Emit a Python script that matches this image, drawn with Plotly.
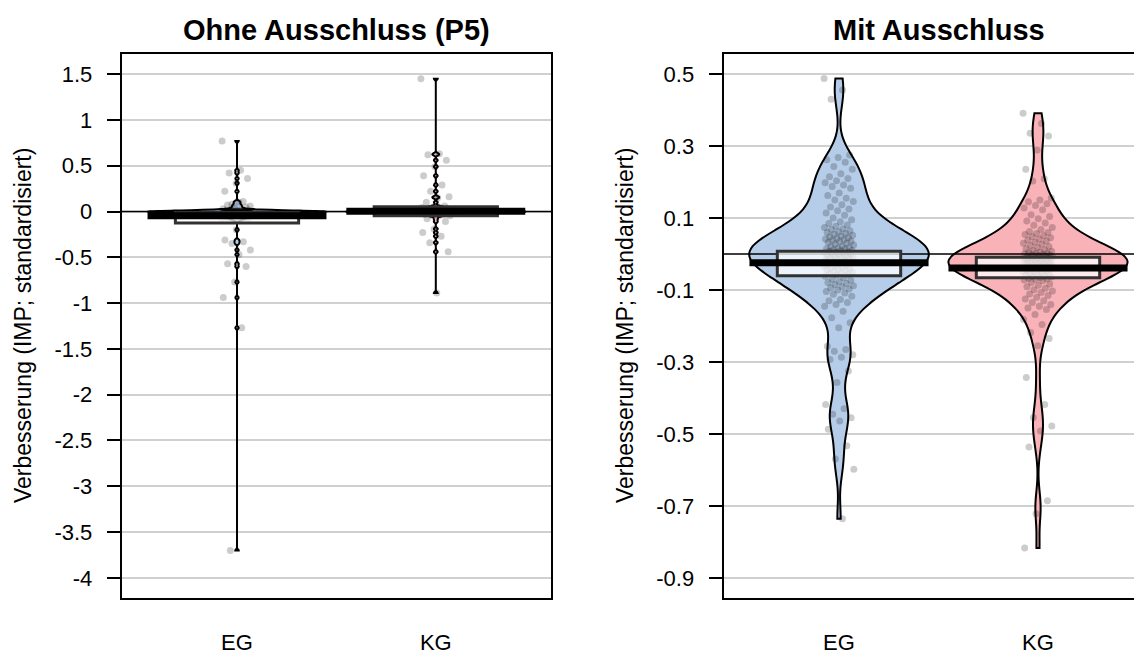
import numpy as np
import plotly.graph_objects as go

# ---------------- data ----------------
groups = ["EG", "KG"]
positions = [1, 2]

# left panel: "Ohne Ausschluss (P5)"
left_eg = [0.77, 0.45, 0.42, 0.36, 0.31, 0.22, 0.11, 0.08, 0.06,
           0.1, 0.07, 0.05, 0.04, 0.03, 0.025, 0.02, 0.016, 0.012, 0.01, 0.008,
           0.006, 0.005, 0.004, 0.003, 0.002, 0.002, 0.001, 0.001, 0.0, 0.0,
           0.0, 0.0, 0.0, 0.0, 0.0, 0.0, 0.0, 0.0, 0.0, 0.0, 0.0, 0.0,
           0.0, 0.0, 0.0, 0.0, 0.0, 0.0, 0.0, 0.0, 0.0, 0.0, 0.0, 0.0,
           -0.001, -0.001, -0.002, -0.002,
           -0.003, -0.003, -0.004, -0.004, -0.005, -0.005, -0.006, -0.007,
           -0.008, -0.009, -0.01, -0.011, -0.012, -0.014, -0.016, -0.018,
           -0.02, -0.022, -0.025, -0.028, -0.03, -0.033, -0.036, -0.04,
           -0.044, -0.048, -0.052, -0.056, -0.06, -0.065, -0.07, -0.075,
           -0.08, -0.09, -0.1,
           -0.2, -0.31, -0.33, -0.35, -0.42, -0.47, -0.57, -0.6, -0.77,
           -0.94, -1.27, -3.7]
left_kg = [1.45, 0.63, 0.62, 0.56, 0.49, 0.39, 0.29, 0.22, 0.16, 0.15, 0.1,
           0.06, 0.05, 0.045, 0.04, 0.035, 0.03, 0.026, 0.022, 0.018, 0.015,
           0.012, 0.01, 0.008, 0.006, 0.005, 0.004, 0.003, 0.002, 0.001,
           0.0, 0.0, 0.0, 0.0, 0.0, 0.0, 0.0, 0.0, 0.0, 0.0, 0.0, 0.0,
           0.0, 0.0, 0.0, 0.0, 0.0, 0.0, 0.0, 0.0, 0.0, 0.0, 0.0, 0.0,
           0.0, 0.0, 0.0, 0.0, 0.0, 0.0, -0.001, -0.002, -0.003,
           -0.004, -0.005, -0.006, -0.008, -0.01, -0.012, -0.015, -0.018,
           -0.022, -0.026, -0.03, -0.035, -0.04, -0.045,
           -0.05, -0.08, -0.11, -0.19, -0.23, -0.27, -0.34, -0.44, -0.89]

# right panel: "Mit Ausschluss"
right_eg = [0.488, 0.456, 0.43,
            0.275, 0.268, 0.262, 0.255,
            0.243, 0.236, 0.223, 0.215, 0.21,
            0.204, 0.198, 0.192, 0.188, 0.183,
            0.17, 0.163, 0.155, 0.15, 0.146,
            0.137, 0.131, 0.125, 0.12, 0.114, 0.108, 0.1, 0.095, 0.09, 0.085, 0.081,
            0.077, 0.074, 0.07, 0.068, 0.065, 0.062, 0.06, 0.057, 0.055, 0.052,
            0.05, 0.048, 0.046, 0.044, 0.042, 0.04, 0.038, 0.036, 0.034, 0.032,
            0.03, 0.028, 0.025, 0.022, 0.02, 0.018,
            0.016, 0.015, 0.014, 0.012, 0.01, 0.009, 0.008, 0.006, 0.005, 0.003,
            0.002, 0.0, -0.001, -0.002, -0.004,
            -0.005, -0.006, -0.008, -0.01, -0.011, -0.012, -0.014, -0.016, -0.018,
            -0.02, -0.022,
            -0.025, -0.028, -0.03, -0.032, -0.034, -0.036, -0.038, -0.04, -0.042,
            -0.044, -0.046, -0.048, -0.05, -0.052, -0.054, -0.056, -0.058,
            -0.062, -0.066, -0.07, -0.073, -0.076, -0.079, -0.082, -0.085, -0.088,
            -0.091, -0.094, -0.097, -0.1, -0.104, -0.108, -0.112, -0.117,
            -0.126, -0.13, -0.135, -0.14, -0.145,
            -0.159, -0.177, -0.191, -0.205,
            -0.256, -0.265, -0.27, -0.28, -0.287, -0.293,
            -0.325, -0.357,
            -0.418, -0.43, -0.445, -0.455, -0.464,
            -0.487,
            -0.533, -0.57, -0.598,
            -0.736]
right_kg = [0.391, 0.363, 0.336, 0.328, 0.289, 0.236, 0.209, 0.203,
            0.156, 0.15, 0.145, 0.14, 0.135, 0.128, 0.123,
            0.109, 0.104, 0.098, 0.092, 0.086, 0.08, 0.074, 0.068,
            0.063, 0.06, 0.057, 0.054, 0.051, 0.048, 0.045, 0.042, 0.039, 0.036,
            0.033, 0.03, 0.027, 0.024, 0.021, 0.018, 0.015, 0.012, 0.01, 0.008,
            0.006, 0.004, 0.002, 0.001,
            0.0, -0.001, -0.002, -0.003, -0.004, -0.005, -0.006, -0.007, -0.008,
            -0.009, -0.01, -0.011, -0.012, -0.013, -0.014, -0.015, -0.016, -0.017,
            -0.018, -0.019, -0.02, -0.021, -0.022, -0.024, -0.025, -0.026, -0.027,
            -0.029, -0.03, -0.032, -0.033, -0.035, -0.036, -0.037, -0.039,
            -0.04, -0.042, -0.043, -0.045, -0.046, -0.047, -0.049, -0.05, -0.052,
            -0.053, -0.055, -0.057, -0.058, -0.06, -0.062, -0.064, -0.065, -0.067,
            -0.069, -0.07, -0.072, -0.074,
            -0.079, -0.083, -0.087, -0.091, -0.095, -0.099, -0.103, -0.107,
            -0.111, -0.115, -0.12, -0.125, -0.13, -0.135, -0.14, -0.145, -0.15, -0.154,
            -0.168, -0.182, -0.196,
            -0.218, -0.235, -0.255,
            -0.343,
            -0.418, -0.454, -0.478, -0.492,
            -0.536,
            -0.686, -0.722,
            -0.817]

# summary statistics shown as bar (mean) and box (interval)
left_means = [-0.047, 0.004]
left_inf_low = [-0.125, -0.045]
left_inf_high = [-0.012, 0.052]
right_means = [-0.024, -0.039]
right_inf_low = [-0.06, -0.066]
right_inf_high = [0.008, -0.009]

left_yticks = [1.5, 1, 0.5, 0, -0.5, -1, -1.5, -2, -2.5, -3, -3.5, -4]
left_yticklabels = ["1.5", "1", "0.5", "0", "-0.5", "-1", "-1.5", "-2", "-2.5", "-3", "-3.5", "-4"]
right_yticks = [0.5, 0.3, 0.1, -0.1, -0.3, -0.5, -0.7, -0.9]
right_yticklabels = ["0.5", "0.3", "0.1", "-0.1", "-0.3", "-0.5", "-0.7", "-0.9"]

titles = ["Ohne Ausschluss (P5)", "Mit Ausschluss"]
ylabel = "Verbesserung (IMP; standardisiert)"

# ---------------- styling ----------------
# The page body has an 8px margin, so the figure is drawn 8px smaller and
# all screen positions are shifted by that offset.
OFF = 8
W, H = 1142 - OFF, 659 - OFF
FONT = "Liberation Sans, Arial, Helvetica, sans-serif"
bean_fill = ["rgb(182,205,233)", "rgb(248,178,184)"]
pt_color = "rgba(0,0,0,0.2)"

plot_top, plot_bot = 54, 598
L_x0, L_x1 = 121.7, 551.1
R_x0, R_x1 = 723.6, 1153.4

def px(x):
    return (x - OFF) / W

def py(y):
    return (H - (y - OFF)) / H

fig = go.Figure()

def jitter(n, amp=0.075):
    k = np.arange(n)
    return ((k * 0.6180339887) % 1.0 - 0.5) * 2 * amp

panels = [
    dict(data=[left_eg, left_kg], bw=[0.012, 0.012], means=left_means,
         lo=left_inf_low, hi=left_inf_high, xa="x", ya="y"),
    dict(data=[right_eg, right_kg], bw=[0.044, 0.04], means=right_means,
         lo=right_inf_low, hi=right_inf_high, xa="x2", ya="y2"),
]

shapes = []
for p in panels:
    for gi, (vals, pos) in enumerate(zip(p["data"], positions)):
        fig.add_trace(go.Violin(
            y=vals, x0=pos, xaxis=p["xa"], yaxis=p["ya"],
            width=0.9, scalemode="width", spanmode="hard",
            bandwidth=p["bw"][gi], points=False,
            fillcolor=bean_fill[gi], line=dict(color="black", width=2),
            box_visible=False, meanline_visible=False, showlegend=False,
            hoverinfo="skip"))
    for gi, (vals, pos) in enumerate(zip(p["data"], positions)):
        v = np.array(vals, dtype=float)
        fig.add_trace(go.Scatter(
            x=pos + jitter(len(v)), y=v, mode="markers",
            xaxis=p["xa"], yaxis=p["ya"],
            marker=dict(size=7, color=pt_color, line=dict(width=0)),
            showlegend=False, hoverinfo="skip"))
    xr = p["xa"]
    yr = p["ya"]
    shapes.append(dict(type="line", xref=xr + " domain", yref=yr, x0=0, x1=1,
                       y0=0, y1=0, line=dict(color="black", width=1.5), layer="above"))
    for gi, pos in enumerate(positions):
        shapes.append(dict(type="rect", xref=xr, yref=yr,
                           x0=pos - 0.31, x1=pos + 0.31,
                           y0=p["lo"][gi], y1=p["hi"][gi],
                           fillcolor="rgba(255,255,255,0.75)",
                           line=dict(color="rgb(50,50,50)", width=3), layer="above"))
        shapes.append(dict(type="line", xref=xr, yref=yr,
                           x0=pos - 0.45, x1=pos + 0.45,
                           y0=p["means"][gi], y1=p["means"][gi],
                           line=dict(color="black", width=7), layer="above"))

ydom = [py(plot_bot), py(plot_top)]
axis_common = dict(showline=True, linecolor="black", linewidth=2,
                   zeroline=False, automargin=False)
yax_common = dict(axis_common, showgrid=True, gridcolor="rgb(208,208,208)",
                  gridwidth=1.5, ticks="outside", ticklen=13, tickwidth=2,
                  tickcolor="black", ticklabelstandoff=10,
                  tickfont=dict(family=FONT, size=22, color="black"))
xax_common = dict(axis_common, showgrid=False, ticks="", tickvals=positions,
                  ticktext=groups, ticklabelstandoff=24,
                  tickfont=dict(family=FONT, size=22, color="black"))

fig.update_layout(
    width=W, height=H, margin=dict(l=0, r=0, t=0, b=0, autoexpand=False),
    paper_bgcolor="white", plot_bgcolor="white",
    violinmode="overlay",
    xaxis=dict(xax_common, domain=[px(L_x0), px(L_x1)], range=[0.42, 2.58],
               mirror=True, anchor="y"),
    yaxis=dict(yax_common, domain=ydom, range=[-4.22, 1.72], mirror=True,
               tickvals=left_yticks, ticktext=left_yticklabels, anchor="x"),
    xaxis2=dict(xax_common, domain=[px(R_x0), 1.0],
                range=[0.42, 0.42 + (1142 - R_x0) / (R_x1 - R_x0) * 2.16],
                mirror=True, anchor="y2"),
    yaxis2=dict(yax_common, domain=ydom, range=[-0.956, 0.556], mirror=False,
                tickvals=right_yticks, ticktext=right_yticklabels, anchor="x2"),
    shapes=shapes,
    font=dict(family=FONT, color="black"),
)

annotations = [
    dict(text="<b>%s</b>" % titles[0], x=px((L_x0 + L_x1) / 2), y=py(30),
         xref="paper", yref="paper", xanchor="center", yanchor="middle",
         showarrow=False, font=dict(family=FONT, size=29, color="black")),
    dict(text="<b>%s</b>" % titles[1], x=px((R_x0 + R_x1) / 2), y=py(30),
         xref="paper", yref="paper", xanchor="center", yanchor="middle",
         showarrow=False, font=dict(family=FONT, size=29, color="black")),
    dict(text=ylabel, x=px(23), y=py((plot_top + plot_bot) / 2), textangle=-90,
         xref="paper", yref="paper", xanchor="center", yanchor="middle",
         showarrow=False, font=dict(family=FONT, size=23, color="black")),
    dict(text=ylabel, x=px(625), y=py((plot_top + plot_bot) / 2), textangle=-90,
         xref="paper", yref="paper", xanchor="center", yanchor="middle",
         showarrow=False, font=dict(family=FONT, size=23, color="black")),
]
fig.update_layout(annotations=annotations)

fig.write_html("out.html")
